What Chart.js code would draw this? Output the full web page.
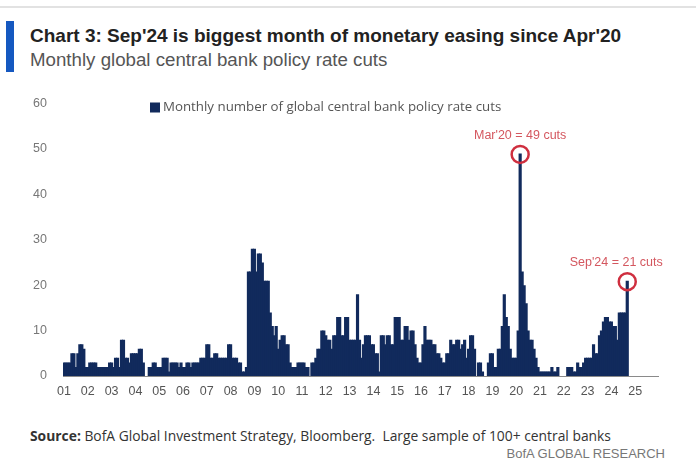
<!DOCTYPE html>
<html>
<head>
<meta charset="utf-8">
<script src="https://cdn.jsdelivr.net/npm/chart.js@4.4.1/dist/chart.umd.min.js"></script>
<style>
  body { margin: 0; background: #fff; }
  .page { position: relative; width: 696px; height: 462px; overflow: hidden; font-family: 'Liberation Sans', Arial, sans-serif; }
  .top-rule { position: absolute; left: 0; top: 6px; width: 696px; height: 2px; background: #e2e2e2; }
  .blue-bar { position: absolute; left: 6px; top: 21px; width: 8px; height: 51px; background: #1558c0; }
  .title { position: absolute; left: 30px; top: 25px; font-size: 19px; font-weight: bold; color: #222; white-space: nowrap; }
  .subtitle { position: absolute; left: 30px; top: 49px; font-size: 18.7px; color: #555; white-space: nowrap; }
  .chart-box { position: absolute; left: 0; top: 80px; width: 696px; height: 330px; }
  .source { position: absolute; left: 30px; top: 426px; font-family: 'Open Sans', sans-serif; font-size: 13.85px; color: #333; white-space: nowrap; }
  .brand { position: absolute; right: 31px; top: 446px; font-size: 13px; color: #777; white-space: nowrap; }
</style>
</head>
<body>
<div class="page">
  <div class="top-rule"></div>
  <div class="blue-bar"></div>
  <div class="title">Chart 3: Sep'24 is biggest month of monetary easing since Apr'20</div>
  <div class="subtitle">Monthly global central bank policy rate cuts</div>
  <div class="chart-box"><canvas id="cutsChart" width="696" height="330"></canvas></div>
  <div class="source"><b>Source:</b> BofA Global Investment Strategy, Bloomberg.&nbsp; Large sample of 100+ central banks</div>
  <div class="brand">BofA GLOBAL RESEARCH</div>
</div>
<script>
// year tick labels, Jan 2001 .. Jan 2025 (axis runs to Dec 2025)
var years = ['01', '02', '03', '04', '05', '06', '07', '08', '09', '10', '11', '12', '13',
  '14', '15', '16', '17', '18', '19', '20', '21', '22', '23', '24', '25'];

// monthly number of policy rate cuts, Jan 2001 .. Sep 2024
var cuts = [
  3, 3, 3, 3, 5, 5, 2, 5, 7, 7, 6, 2,        // 2001
  2, 3, 3, 3, 3, 2, 2, 2, 2, 2, 2, 3,        // 2002
  3, 2, 4, 4, 2, 8, 8, 4, 4, 3, 5, 5,        // 2003
  5, 5, 6, 6, 3, 0, 0, 2, 2, 3, 3, 2,        // 2004
  2, 2, 4, 4, 4, 1, 3, 3, 3, 3, 2, 3,        // 2005
  2, 2, 3, 3, 2, 3, 3, 3, 3, 4, 4, 4,        // 2006
  7, 7, 4, 4, 5, 5, 4, 4, 4, 4, 4, 7,        // 2007
  7, 4, 4, 4, 3, 3, 1, 1, 2, 23, 23, 28,     // 2008
  28, 23, 27, 27, 25, 21, 21, 21, 14, 11, 9, 11, // 2009
  6, 8, 9, 9, 7, 7, 3, 2, 2, 2, 3, 3,        // 2010
  3, 3, 2, 2, 0, 3, 3, 4, 6, 6, 10, 10,      // 2011
  9, 8, 8, 6, 9, 9, 13, 13, 9, 9, 13, 13,    // 2012
  8, 8, 8, 8, 18, 8, 4, 7, 9, 9, 9, 7,       // 2013
  7, 5, 5, 1, 9, 9, 7, 9, 9, 7, 7, 13,       // 2014
  13, 13, 8, 8, 11, 11, 8, 10, 10, 7, 4, 3,  // 2015
  3, 7, 11, 8, 8, 8, 7, 7, 5, 5, 4, 3,       // 2016
  3, 5, 5, 8, 7, 7, 8, 8, 6, 7, 8, 4,        // 2017
  6, 9, 9, 6, 0, 3, 3, 1, 0, 0, 3, 5,        // 2018
  5, 2, 2, 6, 6, 11, 18, 13, 11, 6, 4, 4,    // 2019
  4, 10, 49, 23, 20, 16, 10, 8, 8, 6, 4, 2,  // 2020
  1, 1, 1, 1, 1, 1, 2, 1, 1, 2, 0, 0,        // 2021
  0, 0, 2, 2, 2, 1, 1, 3, 2, 2, 3, 4,        // 2022
  4, 4, 4, 7, 5, 5, 9, 10, 12, 13, 13, 12,   // 2023
  12, 11, 11, 8, 14, 14, 14, 14, 21          // 2024
];

// callouts: month index into cuts, and text
var noteIndex = [230, 284];
var noteText = ["Mar'20 = 49 cuts", "Sep'24 = 21 cuts"];

var legendLabel = 'Monthly number of global central bank policy rate cuts';

var navy = '#112a5c';
var red = '#cf2f3f';

// one category per month
var months = [];
years.forEach(function (y) {
  for (var m = 1; m <= 12; m++) months.push(y + '-' + m);
});

var calloutPlugin = {
  id: 'callouts',
  afterDatasetsDraw: function (chart) {
    var ctx = chart.ctx;
    var xs = chart.scales.x;
    var ys = chart.scales.y;
    ctx.save();
    for (var i = 0; i < noteIndex.length; i++) {
      var x = xs.getPixelForValue(noteIndex[i]);
      var y = ys.getPixelForValue(cuts[noteIndex[i]]);
      ctx.beginPath();
      ctx.arc(x, y + 1, 8.5, 0, Math.PI * 2);
      ctx.lineWidth = 2.5;
      ctx.strokeStyle = red;
      ctx.stroke();
      ctx.font = '12.5px "Liberation Sans", Arial, sans-serif';
      ctx.fillStyle = '#d4575f';
      ctx.textAlign = 'center';
      ctx.textBaseline = 'middle';
      var dx = i === noteIndex.length - 1 ? -11 : 0;
      ctx.fillText(noteText[i], x + dx, y - 18);
    }
    // legend
    var left = chart.chartArea.left + 87;
    var top = chart.chartArea.top + 4;
    ctx.fillStyle = navy;
    ctx.fillRect(left, top - 5, 10, 10);
    ctx.font = '13.3px "Open Sans", sans-serif';
    ctx.fillStyle = '#555';
    ctx.textAlign = 'left';
    ctx.fillText(legendLabel, left + 13, top);
    ctx.restore();
  }
};

Chart.defaults.font.family = "'Liberation Sans', Arial, sans-serif";

var chart = new Chart(document.getElementById('cutsChart'), {
  type: 'bar',
  data: {
    labels: months,
    datasets: [{
      label: legendLabel,
      data: cuts,
      backgroundColor: navy,
      borderWidth: 0,
      barPercentage: 1.6,
      categoryPercentage: 1
    }]
  },
  options: {
    responsive: false,
    animation: false,
    layout: { padding: { top: 20, right: 38, left: 0, bottom: 0 } },
    plugins: {
      legend: { display: false },
      tooltip: { enabled: false }
    },
    scales: {
      x: {
        grid: { display: false, drawTicks: false },
        border: { display: true, color: '#8a8a8a', width: 1 },
        ticks: {
          autoSkip: false,
          maxRotation: 0,
          padding: 8,
          color: '#555',
          font: { size: 12.5 },
          callback: function (v, i) {
            return i % 12 === 0 ? years[i / 12] : '';
          }
        },
        afterFit: function (scale) { scale.height = 34; }
      },
      y: {
        min: 0,
        max: 60,
        grid: { display: false, drawTicks: false },
        border: { display: false },
        ticks: { stepSize: 10, padding: 16, color: '#777', font: { size: 12.5 } },
        afterFit: function (scale) { scale.width = 63; }
      }
    }
  },
  plugins: [calloutPlugin]
});
</script>
</body>
</html>
